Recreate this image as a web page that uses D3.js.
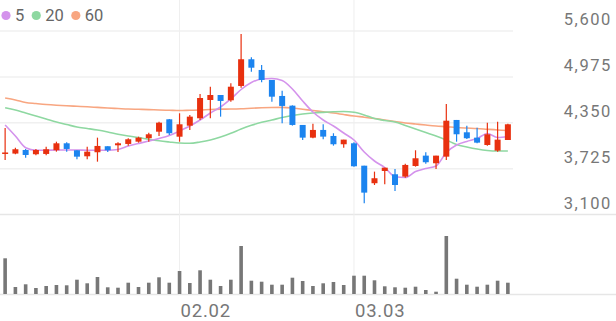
<!DOCTYPE html>
<html><head><meta charset="utf-8">
<script src="https://cdn.jsdelivr.net/npm/d3@7"></script>
<style>
html,body{margin:0;padding:0;background:#fff;}
svg{display:block;font-family:Roboto,"Noto Sans",sans-serif;}
</style></head>
<body><svg id="c" width="616" height="321"></svg>
<script>
const dates = ["01.08","01.11","01.12","01.13","01.14","01.15","01.18","01.19","01.20","01.21","01.22","01.25","01.26","01.27","01.28","01.29","02.01",
"02.02","02.03","02.04","02.05","02.08","02.09","02.15","02.16","02.17","02.18","02.19","02.22","02.23","02.24","02.25","02.26","03.02",
"03.03","03.04","03.05","03.08","03.09","03.10","03.11","03.12","03.15","03.16","03.17","03.18","03.19","03.22","03.23","03.24"];
const open  = [3930,3930,3979,3921,3925,3975,4070,3975,3893,3948,4030,4043,4061,4092,4139,4228,4397,4160,4310,4411,4660,4728,4656,4851,5215,5069,4933,4715,4583,4320,4147,4252,4170,4057,4070,3765,3526,3693,3648,3616,3761,3902,3798,3888,4388,4220,4147,4047,3970,4115];
const high  = [4278,4011,3993,3993,4024,4092,4084,3975,4024,4147,4030,4084,4139,4160,4215,4365,4401,4479,4456,4742,4841,4728,4888,5559,5242,5137,4933,4787,4587,4320,4337,4329,4207,4120,4084,3765,3684,3738,3720,3793,3975,3948,3902,4606,4388,4310,4283,4351,4365,4338];
const low   = [3843,3921,3874,3907,3907,3956,3956,3853,3853,3820,3952,3952,4038,4079,4092,4170,4184,4092,4251,4388,4411,4433,4637,4828,5046,4901,4637,4343,4311,4115,4139,4125,4038,4011,3752,3253,3502,3512,3421,3602,3752,3793,3720,3843,4092,4129,4070,4038,3956,4115];
const close = [3945,3989,3911,3979,3989,4070,3993,3888,3956,4034,3975,4070,4125,4147,4193,4351,4207,4329,4433,4687,4728,4647,4841,5215,5100,4933,4705,4579,4320,4147,4252,4161,4057,4120,3757,3398,3594,3738,3502,3775,3866,3812,3902,4378,4193,4139,4079,4193,4120,4329];
const volume = [35700,7000,9700,6000,8000,9000,8700,14300,10700,17000,6700,6300,11300,7000,11300,16700,11300,23000,11000,23700,14300,8000,14300,48000,13300,12300,9300,9300,16300,13000,8000,10700,12000,9000,18300,18300,13700,7700,6700,6300,7300,4000,2300,58000,15300,9300,7300,9300,13300,11300];
const ma5  = [4319,4169,4010,3975,3975,3979,3979,3979,3975,3975,3975,3986,4033,4067,4101,4135,4176,4238,4306,4387,4483,4565,4674,4803,4898,4946,4953,4926,4810,4646,4496,4387,4306,4210,4115,3951,3829,3740,3615,3604,3686,3727,3761,3945,4047,4095,4135,4204,4149,4163];
const ma20 = [4555,4524,4483,4442,4401,4360,4326,4292,4272,4251,4224,4193,4169,4149,4125,4104,4088,4074,4070,4088,4115,4156,4206,4265,4315,4356,4387,4422,4449,4469,4483,4492,4499,4503,4492,4456,4408,4381,4360,4313,4265,4217,4169,4115,4054,4020,3992,3972,3965,3965];
const ma60 = [4687,4660,4626,4612,4599,4589,4581,4574,4567,4559,4551,4544,4537,4533,4529,4524,4520,4516,4520,4524,4531,4535,4537,4541,4548,4554,4558,4560,4551,4533,4517,4499,4483,4462,4442,4426,4408,4387,4367,4347,4333,4319,4306,4296,4285,4278,4272,4261,4251,4244];
const priceTicks = [5600,4975,4350,3725,3100];
const dateTicks = ["02.02","03.03"];
const maNames = ["5","20","60"];
const maColors = ["#d493ec","#8ed8a1","#f8a681"];
const upColor = "#e8300f", downColor = "#1b84ef";

const svg = d3.select("#c");
const W = 616;
const plotRight = 513;
const x = d3.scaleBand().domain(dates).range([0, plotRight]);
const cx = d => x(d) + x.bandwidth()/2;
const y = d3.scaleLinear().domain([3100, 5600]).range([214.5, 31]);
const yv = d3.scaleLinear().domain([0, d3.max(volume)]).range([294, 236]);

// horizontal grid
svg.append("g").selectAll("line").data(priceTicks).join("line")
  .attr("x1", 0).attr("x2", d => d === 3100 ? W : plotRight)
  .attr("y1", d => y(d)).attr("y2", d => y(d))
  .attr("stroke", d => d === 3100 ? "#e6e6e6" : "#f0f0f0").attr("stroke-width", 1.5);
// volume baseline
svg.append("line").attr("x1",0).attr("x2",W).attr("y1",294.5).attr("y2",294.5)
  .attr("stroke","#e6e6e6").attr("stroke-width",1.5);
// vertical grid
svg.append("g").selectAll("line").data(dateTicks).join("line")
  .attr("x1", d => cx(d)).attr("x2", d => cx(d)).attr("y1", 0).attr("y2", 295)
  .attr("stroke", "#efefef").attr("stroke-width", 1);

// y labels
svg.append("g").selectAll("text").data(priceTicks).join("text")
  .attr("x", 612).attr("y", d => y(d) - 6).attr("text-anchor","end")
  .attr("font-size", 16.5).attr("letter-spacing", 1.6).attr("fill", "#777")
  .text(d => d3.format(",")(d));
// x labels
svg.append("g").selectAll("text").data(dateTicks).join("text")
  .attr("x", d => cx(d) + 1).attr("y", 316.5)
  .attr("font-size", 18.5).attr("letter-spacing", 0.8).attr("fill", "#777")
  .text(d => d);

// volume bars
svg.append("g").selectAll("rect").data(volume).join("rect")
  .attr("x", (d,i) => cx(dates[i]) - 1.8).attr("width", 3.6)
  .attr("y", d => yv(d)).attr("height", d => 294 - yv(d))
  .attr("fill", "#777");

// MA lines
const mas = [ma5, ma20, ma60];
const line = d3.line().x((d,i) => cx(dates[i])).y(d => y(d)).curve(d3.curveMonotoneX);
[2,1,0].forEach(k => {
  svg.append("path").datum(mas[k]).attr("d", line)
    .attr("fill","none").attr("stroke", maColors[k]).attr("stroke-width", 1.6);
});

// candles
const cg = svg.append("g");
dates.forEach((d,i) => {
  const up = close[i] >= open[i];
  const col = up ? upColor : downColor;
  const c = cx(d);
  cg.append("line").attr("x1", c).attr("x2", c)
    .attr("y1", y(high[i])).attr("y2", y(low[i]))
    .attr("stroke", col).attr("stroke-width", 1.2);
  const top = y(Math.max(open[i], close[i])), bot = y(Math.min(open[i], close[i]));
  cg.append("rect").attr("x", c - 3).attr("width", 6)
    .attr("y", top).attr("height", Math.max(1.5, bot - top))
    .attr("fill", col);
});

// legend
const lg = svg.append("g");
let lx = 6;
maNames.forEach((n,k) => {
  lg.append("circle").attr("cx", lx).attr("cy", 15.5).attr("r", 4.6).attr("fill", maColors[k]);
  const t = lg.append("text").attr("x", lx + 9).attr("y", 21).attr("font-size", 16.5)
    .attr("fill", "#666").text(n);
  lx = lx + 9 + t.node().getComputedTextLength() + 12;
});
</script></body></html>
